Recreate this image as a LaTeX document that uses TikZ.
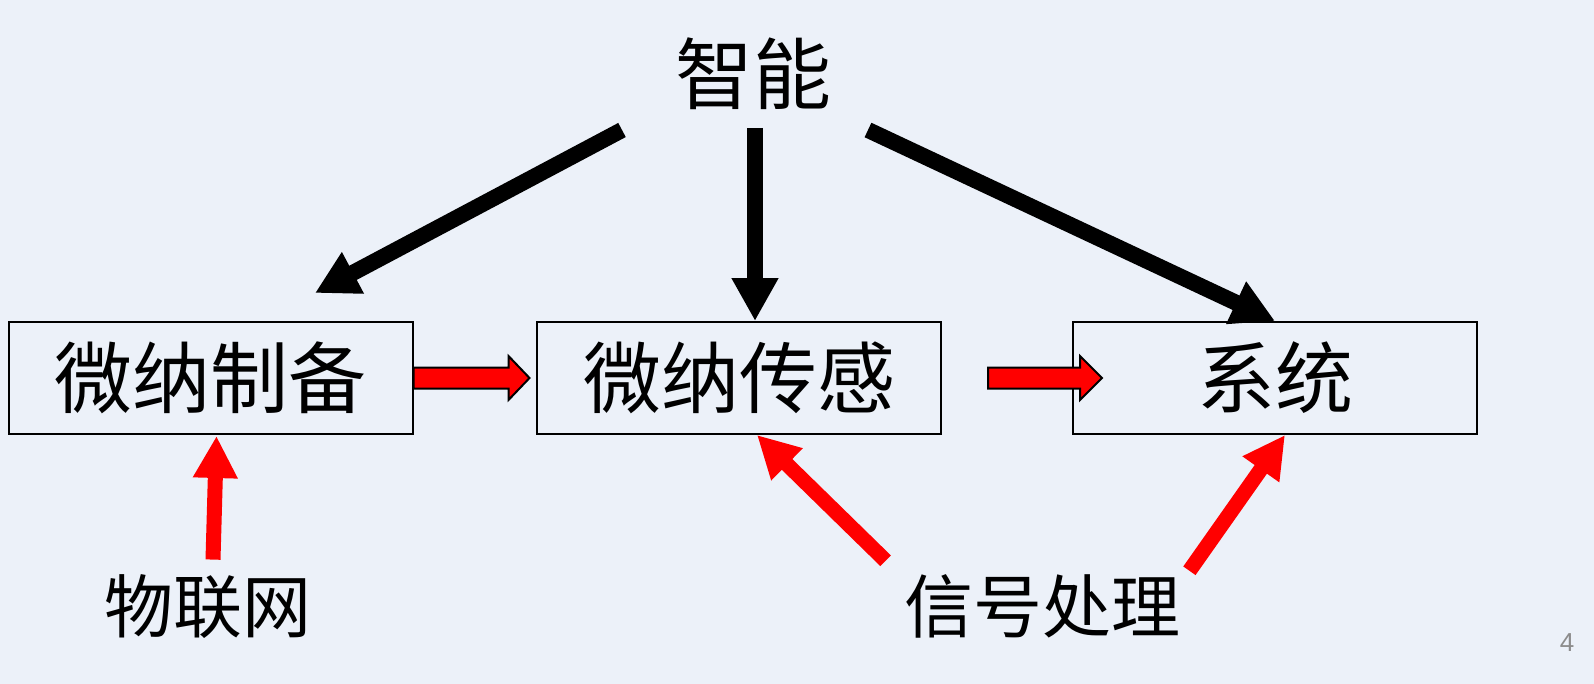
\documentclass[tikz,border=0pt]{standalone}
\usepackage{fontspec}
\usetikzlibrary{arrows.meta,calc}
\newfontfamily\cjk{Noto Sans CJK SC}
\newfontfamily\pagefont{Liberation Sans}
\definecolor{slidebg}{RGB}{236,241,249}
\definecolor{pagegray}{RGB}{140,140,140}

\tikzset{
  box/.style={draw, line width=1pt, minimum width=202pt, minimum height=56pt,
              inner sep=0pt, font=\cjk\fontsize{39}{42}\selectfont},
  bigtxt/.style={inner sep=0pt, font=\cjk\fontsize{39}{42}\selectfont},
  smalltxt/.style={inner sep=0pt, font=\cjk\fontsize{34.5}{38}\selectfont},
  blk/.style={line width=8pt, -{Triangle[length=21.5pt,width=22pt]}},
  redln/.style={red, line width=7.5pt, -{Triangle[length=21pt,width=21pt]}},
  redblock/.style={fill=red, draw=black, line width=1pt, line join=miter},
}

\begin{document}
\begin{tikzpicture}[x=0.5pt,y=-0.5pt]

  \fill[slidebg] (0,0) rectangle (1594,684);

  \node[bigtxt] at (753,74) (zn) {智能};

  \node[box] at (210.5,378) (b1) {微纳制备};
  \node[box] at (739,378)   (b2) {微纳传感};
  \node[box] at (1275,378)  (b3) {系统};

  \node[smalltxt] at (208,607)  (wl) {物联网};
  \node[smalltxt] at (1042,606) (xh) {信号处理};

  \coordinate (s1) at (622,130);
  \coordinate (s2) at (755,128);
  \coordinate (s3) at (868,130);
  \coordinate (e1) at (315,293);

%black arrows from the top
  \draw[blk] (s1) -- (e1);
  \draw[blk] (s2) -- ($(b2.north)+(16,0)$);
  \draw[blk] (s3) -- (b3.north);

%block arrows between the boxes
  \draw[redblock] ($(b1.east)+(0,-10.5)$) -- ++(95,0) -- ++(0,-11.5) -- ++(21,22)
        -- ++(-21,22) -- ++(0,-11.5) -- ++(-95,0) -- cycle;
  \draw[redblock] ($(b2.east)+(46,-10.5)$) -- ++(92,0) -- ++(0,-11.5) -- ++(22,22)
        -- ++(-22,22) -- ++(0,-11.5) -- ++(-92,0) -- cycle;

%red arrows from below
  \draw[redln] ($(wl.north)+(5,-15)$) -- ($(b1.south)+(6,1)$);
  \draw[redln] ($(xh.north west)+(-18,-13)$) -- ($(b2.south)+(18,0)$);
  \draw[redln] ($(xh.north east)+(9,-3)$) -- ($(b3.south)+(10,0)$);

  \node[pagegray, font=\pagefont\fontsize{13}{15}\selectfont] at (1567,643) (pg) {4};

\end{tikzpicture}
\end{document}
